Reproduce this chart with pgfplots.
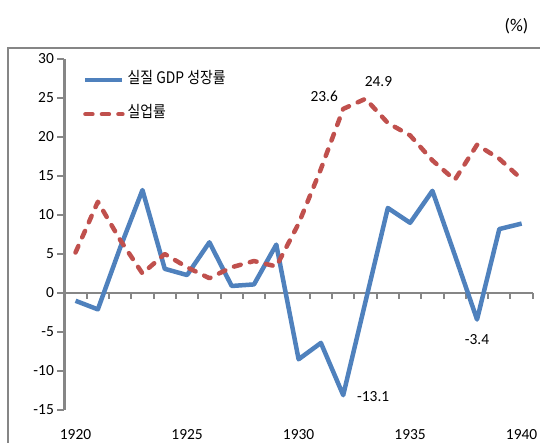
\documentclass[border=0pt]{standalone}
\usepackage{fontspec}
\setmainfont{Carlito}
\newfontfamily\kr[FakeStretch=0.87]{Noto Sans CJK KR}
\usepackage{pgfplots}
\pgfplotsset{compat=1.18}
\definecolor{gdpblue}{HTML}{4F81BD}
\definecolor{unred}{HTML}{C0504D}
\definecolor{axgray}{HTML}{868686}
\begin{document}
\begin{tikzpicture}
\useasboundingbox (-64.4bp,-33bp) rectangle (475.6bp,410bp);
\draw[axgray, line width=2bp] (-56.4bp,-40bp) -- (-56.4bp,362.3bp) -- (480bp,362.3bp);
\node[font=\fontsize{18}{18}\selectfont] at (452.1bp,384bp) {(\%)};
\begin{axis}[
  at={(0,0)}, anchor=south west,
  scale only axis, width=468.4bp, height=351bp,
  xmin=-0.5, xmax=20.5, ymin=-15, ymax=30,
  clip=false,
  axis lines*=left,
  x axis line style={draw=none},
  y axis line style={draw=axgray, line width=2.5bp},
  tick align=outside, major tick length=7bp,
  ytick={-15,-10,-5,0,5,10,15,20,25,30},
  yticklabels={-15,-10,-5,0,5,10,15,20,25,30},
  ytick style={draw=axgray, line width=2bp},
  xtick={0,5,10,15,20},
  xticklabels={1920,1925,1930,1935,1940},
  xtick style={draw=none},
  x tick label style={anchor=base, yshift=-22bp},
  tick label style={font=\fontsize{15.5}{15.5}\selectfont, text=black},
  legend image code/.code={\draw[#1] (0bp,0bp) -- (37bp,0bp);},
  legend cell align=left,
  legend style={at={(axis description cs:0,1)}, anchor=north west,
    xshift=18.6bp, yshift=-14.5bp, draw=none, fill=none, inner sep=0pt,
    row sep=21bp, column sep=3bp,
    font=\kr\fontsize{16}{16}\selectfont,
    nodes={inner sep=0pt, text height=10bp, text depth=3bp}},
]
\draw[axgray, line width=2.5bp] (axis cs:-0.5,0) -- (axis cs:20.5,0);
\pgfplotsinvokeforeach{0,...,20}{
  \draw[axgray, line width=2bp] (axis cs:#1.5,0) -- ([yshift=-6bp]axis cs:#1.5,0);
}
\addplot[gdpblue, line width=4.5bp, line join=round] coordinates {
(0,-1.0) (1,-2.1) (2,5.8) (3,13.2) (4,3.1) (5,2.3)
(6,6.5) (7,0.9) (8,1.1) (9,6.2) (10,-8.5) (11,-6.4)
(12,-13.1) (13,-1.1) (14,10.9) (15,9.0) (16,13.1) (17,4.9)
(18,-3.4) (19,8.2) (20,8.9)};
\addlegendentry{실질 GDP 성장률}
\addplot[unred, line width=4.5bp, dash pattern=on 7bp off 9.5bp, line cap=round, line join=round] coordinates {
(0,5.2) (1,11.7) (2,6.8) (3,2.5) (4,5.0) (5,3.3)
(6,1.9) (7,3.3) (8,4.1) (9,3.4) (10,8.9) (11,15.9)
(12,23.6) (13,24.9) (14,21.8) (15,20.2) (16,17.0) (17,14.5)
(18,19.0) (19,17.2) (20,14.6)};
\addlegendentry{실업률}
\node[font=\fontsize{15.5}{15.5}\selectfont, xshift=-19bp, yshift=13bp] at (axis cs:12,23.6) {23.6};
\node[font=\fontsize{15.5}{15.5}\selectfont, xshift=13bp, yshift=17bp] at (axis cs:13,24.9) {24.9};
\node[font=\fontsize{15.5}{15.5}\selectfont, xshift=30bp, yshift=-1bp] at (axis cs:12,-13.1) {-13.1};
\node[font=\fontsize{15.5}{15.5}\selectfont, yshift=-20bp] at (axis cs:18,-3.4) {-3.4};
\end{axis}
\end{tikzpicture}
\end{document}
